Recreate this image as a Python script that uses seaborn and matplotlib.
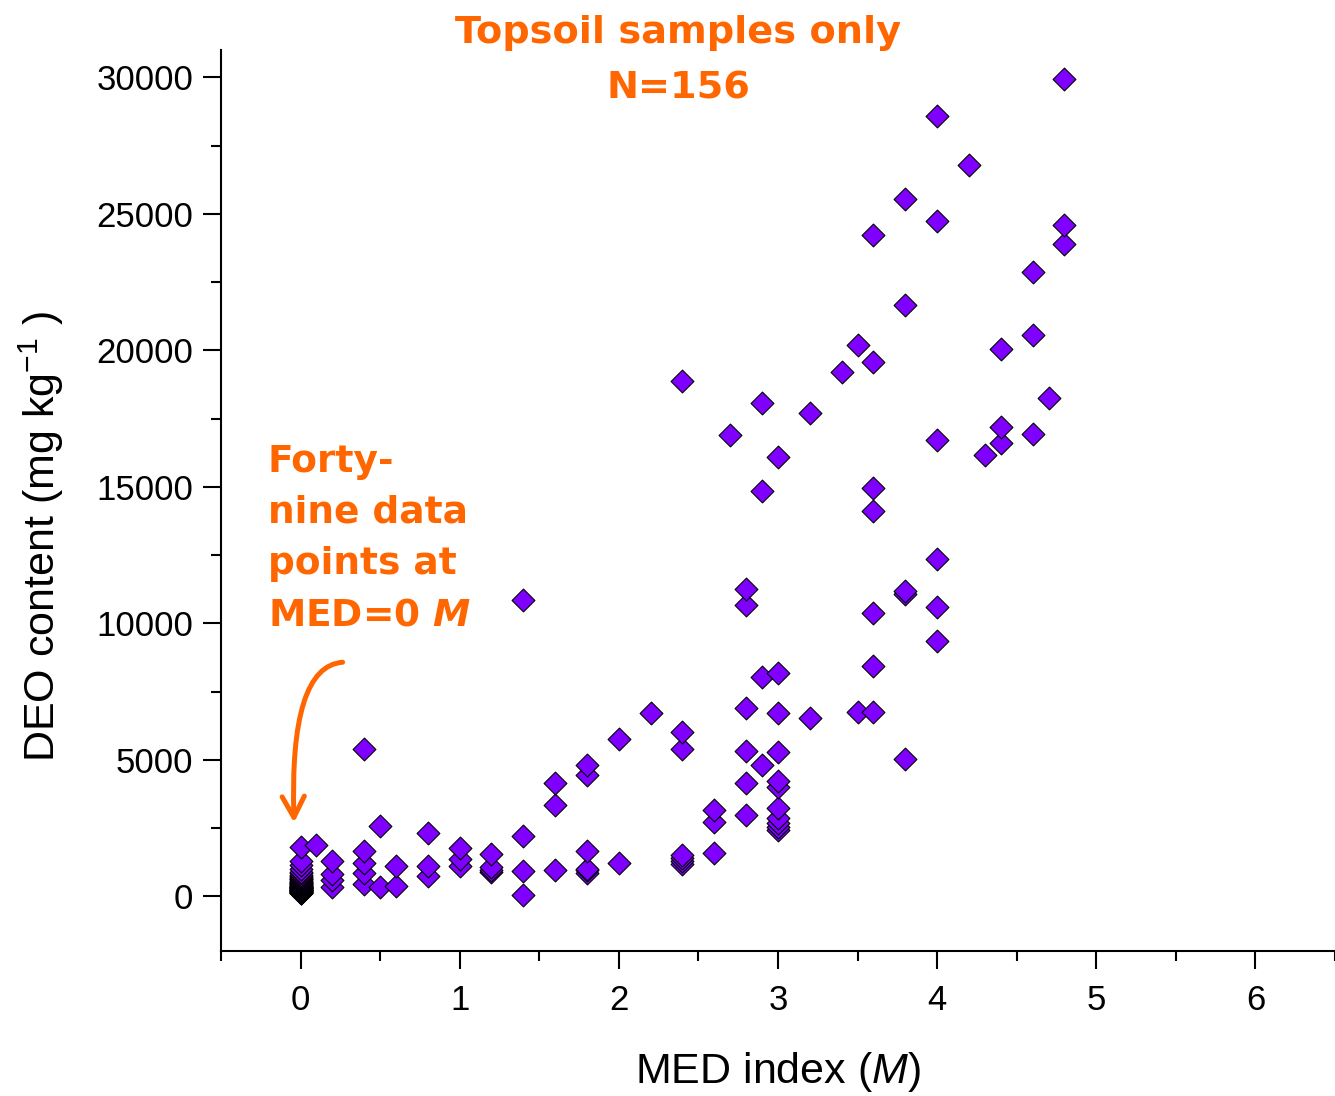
import matplotlib
matplotlib.use('Agg')
import matplotlib.pyplot as plt
import seaborn as sns
import pandas as pd
from matplotlib.ticker import MultipleLocator

# DEO content (mg/kg) of topsoil samples grouped by MED index value
med_levels = [0.0, 0.1, 0.2, 0.4, 0.5, 0.6, 0.8, 1.0, 1.2, 1.4, 1.6, 1.8, 2.0,
              2.2, 2.4, 2.6, 2.7, 2.8, 2.9, 3.0, 3.2, 3.4, 3.5, 3.6, 3.8, 4.0,
              4.2, 4.3, 4.4, 4.6, 4.7, 4.8]
deo_by_level = [
    [120, 130, 140, 150, 160, 170, 180, 190, 200, 210, 220, 230, 240, 250,
     260, 270, 280, 290, 300, 310, 320, 330, 340, 350, 360, 370, 380, 400,
     420, 440, 460, 480, 500, 520, 540, 560, 590, 620, 650, 680, 720, 760,
     800, 850, 900, 1000, 1150, 1300, 1800],
    [1870],
    [340, 590, 830, 1290],
    [460, 870, 1220, 1660, 5410],
    [340, 2570],
    [380, 1120],
    [730, 1120, 2320],
    [1100, 1380, 1780],
    [890, 950, 1070, 1560],
    [40, 930, 2200, 10860],
    [980, 3350, 4150],
    [840, 950, 1000, 1660, 4440, 4800],
    [1220, 5770],
    [6710],
    [1170, 1300, 1400, 1500, 5390, 6010, 18890],
    [1580, 2710, 3150],
    [16900],
    [2970, 4140, 5320, 6890, 10670, 11260],
    [4800, 8030, 14850, 18080],
    [2420, 2530, 2680, 2860, 3230, 4000, 4220, 5280, 6710, 8180, 16100],
    [6530, 17710],
    [19220],
    [6750, 20200],
    [6750, 8430, 10380, 14120, 14960, 19580, 24240],
    [5020, 11070, 11180, 21670, 25560],
    [9350, 10600, 12360, 16720, 24750, 28570],
    [26770],
    [16170],
    [16610, 17200, 20060],
    [16940, 20570, 22880],
    [18260],
    [23910, 24600, 29920],
]

rows = []
for med, vals in zip(med_levels, deo_by_level):
    for v in sorted(vals):
        rows.append((med, v))
df = pd.DataFrame(rows, columns=['MED', 'DEO'])

orange = '#FF6600'
purple = '#7F00FF'

sns.set_style('ticks')
plt.rcParams['font.family'] = ['Liberation Sans', 'DejaVu Sans']
plt.rcParams['text.color'] = 'black'
plt.rcParams['axes.labelcolor'] = 'black'
plt.rcParams['xtick.color'] = 'black'
plt.rcParams['ytick.color'] = 'black'
plt.rcParams['mathtext.fontset'] = 'custom'
plt.rcParams['mathtext.rm'] = 'Liberation Sans'
plt.rcParams['mathtext.it'] = 'Liberation Sans:italic'
plt.rcParams['mathtext.bf'] = 'DejaVu Sans:bold'
plt.rcParams['mathtext.bfit'] = 'DejaVu Sans:italic:bold'

fig = plt.figure(figsize=(13.35, 10.96), dpi=100)
ax = fig.add_axes([0.1655, 0.1323, 0.8345, 0.8221])

sns.scatterplot(data=df, x='MED', y='DEO', marker='D', s=135, color=purple,
                edgecolor='black', linewidth=0.8, ax=ax, zorder=3)

ax.set_xlim(-0.5, 6.5)
ax.set_ylim(-2000, 31000)
ax.xaxis.set_major_locator(MultipleLocator(1))
ax.xaxis.set_minor_locator(MultipleLocator(0.5))
ax.yaxis.set_major_locator(MultipleLocator(5000))
ax.yaxis.set_minor_locator(MultipleLocator(2500))

for side in ['top', 'right']:
    ax.spines[side].set_visible(False)
for side in ['left', 'bottom']:
    ax.spines[side].set_linewidth(1.5)
    ax.spines[side].set_color('black')

ax.tick_params(which='major', direction='out', length=13, width=1.5,
               labelsize=25, pad=7, color='black', labelcolor='black')
ax.tick_params(which='minor', direction='out', length=7, width=1.5,
               color='black')
ax.tick_params(axis='x', which='major', pad=11)

ax.set_xlabel('MED index ($\\mathit{M}$)', fontsize=31)
ax.set_ylabel('DEO content (mg kg$^{-1}$ )', fontsize=31)
ax.xaxis.set_label_coords(0.5, -0.11)
ax.yaxis.set_label_coords(-0.139, 0.46)

fig.text(0.508, 0.9700, 'Topsoil samples only', color=orange, fontsize=27.5,
         fontweight='bold', family='DejaVu Sans', ha='center', va='center')
fig.text(0.508, 0.9190, 'N=156', color=orange, fontsize=27.5,
         fontweight='bold', family='DejaVu Sans', ha='center', va='center')

ax.text(-0.207, 13110, 'Forty-\nnine data\npoints at\nMED=0 $\\mathbfit{M}$',
        color=orange, fontsize=27, fontweight='bold', family='DejaVu Sans',
        ha='left', va='center', linespacing=1.54)

ax.annotate('', xy=(-0.04, 2600), xytext=(0.282, 8580),
            arrowprops=dict(arrowstyle='->,head_length=0.75,head_width=0.4',
                            connectionstyle='angle3,angleA=180,angleB=92',
                            color=orange, lw=3.6, mutation_scale=20))

fig.savefig('out.png', dpi=100)
